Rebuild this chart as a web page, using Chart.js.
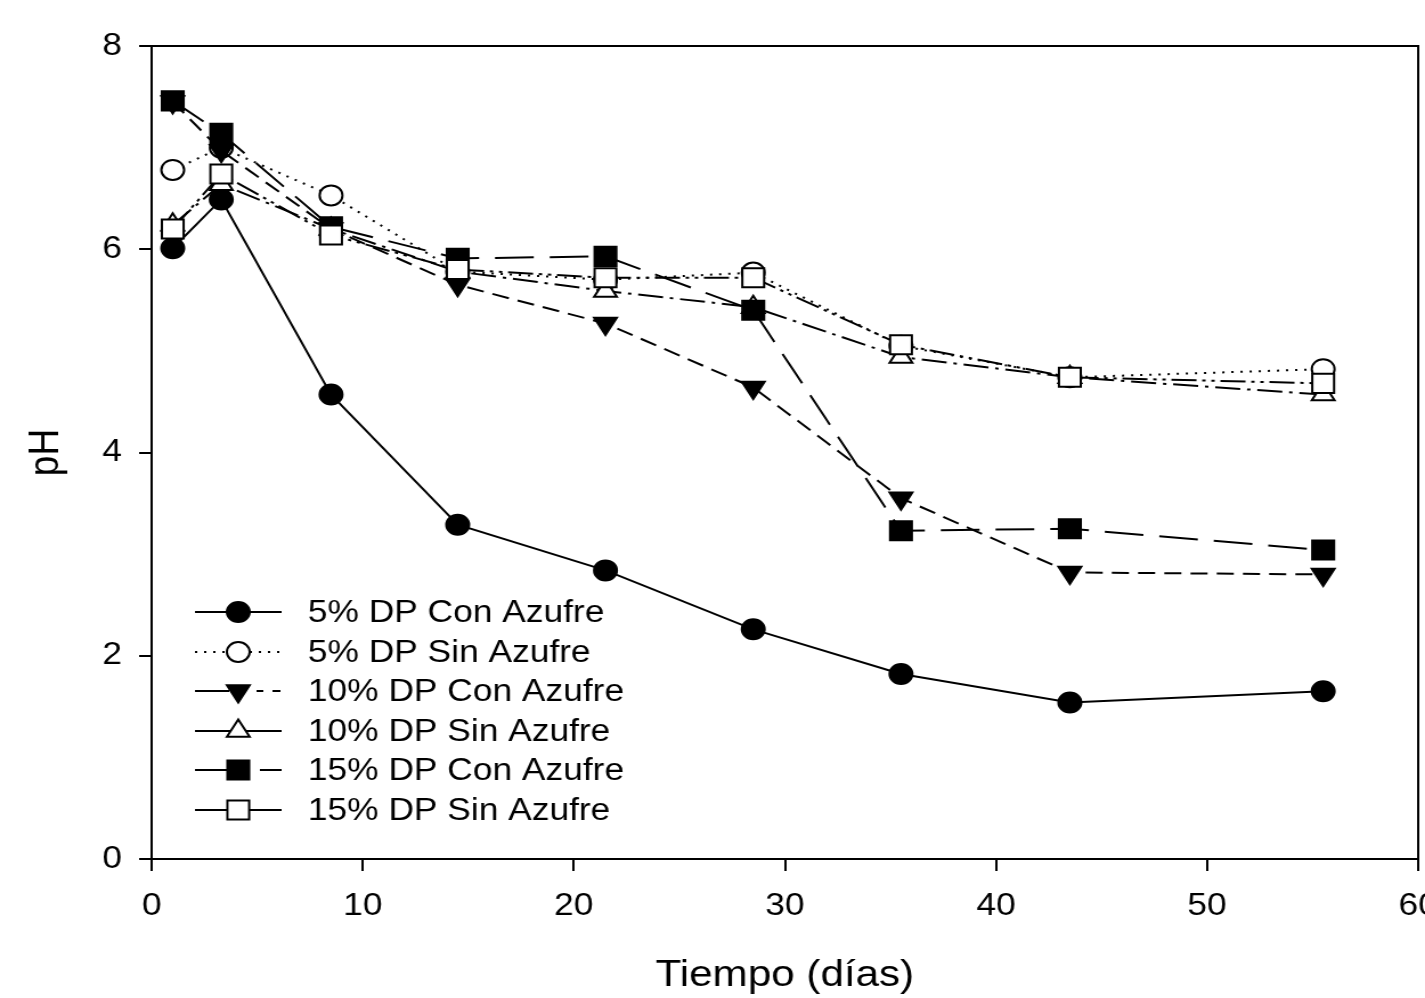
<!DOCTYPE html>
<html>
<head>
<meta charset="utf-8">
<script src="https://cdn.jsdelivr.net/npm/chart.js@4.4.1/dist/chart.umd.min.js"></script>
<style>
html, body { margin: 0; padding: 0; background: #fff; overflow: hidden; }
/* the source figure is stretched sideways, so the canvas is too */
#chart { display: block; transform: scaleX(1.14); transform-origin: 0 0; }
</style>
</head>
<body>
<canvas id="chart" width="1250" height="998"></canvas>
<script>
const days = [1, 3.3, 8.5, 14.5, 21.5, 28.5, 35.5, 43.5, 55.5];

const con5 = [6.01, 6.49, 4.57, 3.29, 2.84, 2.26, 1.82, 1.54, 1.65];
const sin5 = [6.78, 7.00, 6.53, 5.78, 5.70, 5.77, 5.05, 4.74, 4.82];
const con10 = [7.45, 6.97, 6.20, 5.65, 5.27, 4.64, 3.55, 2.82, 2.80];
const sin10 = [6.24, 6.64, 6.20, 5.78, 5.59, 5.43, 4.94, 4.74, 4.57];
const con15 = [7.46, 7.14, 6.22, 5.91, 5.93, 5.40, 3.23, 3.25, 3.04];
const sin15 = [6.20, 6.74, 6.14, 5.80, 5.72, 5.72, 5.06, 4.74, 4.68];

const seriesNames = ['5% DP Con Azufre', '5% DP Sin Azufre', '10% DP Con Azufre',
    '10% DP Sin Azufre', '15% DP Con Azufre', '15% DP Sin Azufre'];

const FONT = 'Arial, "Liberation Sans", sans-serif';

function pts(values) {
    return days.map((d, i) => ({ x: d, y: values[i] }));
}

function series(i, values, style, filled, radius, dash, legendDash, rotation) {
    return {
        label: seriesNames[i],
        data: pts(values),
        order: 5 - i,
        borderColor: 'black',
        borderWidth: 2,
        borderDash: dash,
        legendDash: legendDash,
        pointStyle: style,
        rotation: rotation || 0,
        pointRadius: radius,
        pointHoverRadius: radius,
        pointBorderWidth: 2,
        pointBorderColor: 'black',
        pointBackgroundColor: filled ? 'black' : 'white',
        tension: 0,
        fill: false
    };
}

const datasets = [
    series(0, con5, 'circle', true, 10, [], []),
    series(1, sin5, 'circle', false, 10, [2, 6], [2, 6]),
    series(2, con10, 'triangle', true, 11.5, [15, 8], [30, 24, 6, 8, 7, 20], 180),
    series(3, sin10, 'triangle', false, 11.5, [22, 6, 3, 6], []),
    series(4, con15, 'rect', true, 13.5, [34, 14], [47, 10, 19, 20]),
    series(5, sin15, 'rect', false, 13.5, [22, 5, 3, 5, 3, 5], [])
];

// closes the box on the top and right sides
const frame = {
    id: 'frame',
    beforeDatasetsDraw(chart) {
        const { ctx, chartArea: a } = chart;
        ctx.save();
        ctx.strokeStyle = 'black';
        ctx.lineWidth = 2;
        ctx.beginPath();
        ctx.moveTo(a.left, a.top);
        ctx.lineTo(a.right, a.top);
        ctx.lineTo(a.right, a.bottom);
        ctx.stroke();
        ctx.restore();
    }
};

// legend inside the plot, line sample with the marker in the middle
const insideLegend = {
    id: 'insideLegend',
    afterDraw(chart) {
        const ctx = chart.ctx;
        const rows = [612, 652, 691, 731, 770, 810];
        ctx.save();
        chart.data.datasets.forEach((ds, i) => {
            const y = rows[i];
            ctx.strokeStyle = 'black';
            ctx.lineWidth = 2;
            ctx.setLineDash(ds.legendDash);
            ctx.beginPath();
            ctx.moveTo(171, y);
            ctx.lineTo(247, y);
            ctx.stroke();
            ctx.setLineDash([]);
            ctx.fillStyle = ds.pointBackgroundColor;
            ctx.strokeStyle = 'black';
            Chart.helpers.drawPoint(ctx, {
                pointStyle: ds.pointStyle,
                rotation: ds.rotation,
                radius: ds.pointRadius,
                borderWidth: 2
            }, 209, y);
            ctx.fillStyle = 'black';
            ctx.font = '31px ' + FONT;
            ctx.textAlign = 'left';
            ctx.textBaseline = 'middle';
            ctx.fillText(ds.label, 270, y + 1);
        });
        ctx.restore();
    }
};

new Chart(document.getElementById('chart'), {
    type: 'line',
    data: { datasets: datasets },
    plugins: [frame, insideLegend],
    options: {
        responsive: false,
        animation: false,
        layout: { autoPadding: false, padding: { top: 46, right: 6, left: 0, bottom: 0 } },
        plugins: {
            legend: { display: false },
            tooltip: { enabled: false }
        },
        scales: {
            x: {
                type: 'linear',
                min: 0,
                max: 60,
                ticks: { stepSize: 10, color: 'black', padding: 17, font: { family: FONT, size: 31 } },
                grid: { drawOnChartArea: false, drawTicks: true, tickLength: 12, color: 'black', lineWidth: 2 },
                border: { display: true, color: 'black', width: 2 },
                title: { display: true, text: 'Tiempo (días)', color: 'black',
                    font: { family: FONT, size: 37 }, padding: { top: 0, bottom: 0 } },
                afterFit(s) {
                    s.height = 139;
                    s.paddingLeft = 0;
                    s.paddingRight = 0;
                }
            },
            y: {
                min: 0,
                max: 8,
                ticks: { stepSize: 2, color: 'black', padding: 15, font: { family: FONT, size: 31 } },
                grid: { drawOnChartArea: false, drawTicks: true, tickLength: 11, color: 'black', lineWidth: 2 },
                border: { display: true, color: 'black', width: 2 },
                title: { display: true, text: 'pH', color: 'black',
                    font: { family: FONT, size: 37 }, padding: { top: 19, bottom: 0 } },
                afterFit(s) {
                    s.width = 133;
                    s.paddingTop = 0;
                    s.paddingBottom = 0;
                }
            }
        }
    }
});
</script>
</body>
</html>
